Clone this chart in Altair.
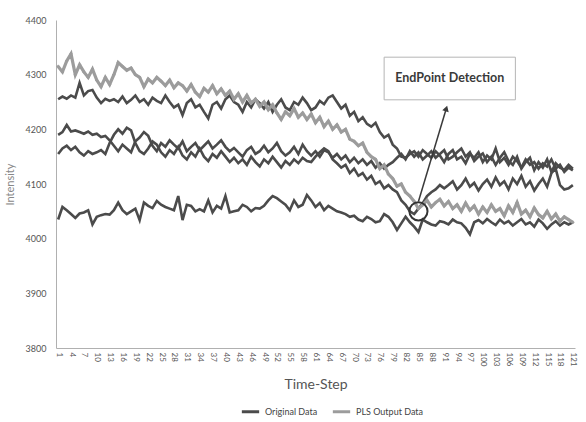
import altair as alt
import pandas as pd

# ---- data ----
steps = list(range(1, 122))
tick_steps = list(range(1, 122, 3))

pls_output = [
    4315, 4305, 4325, 4338, 4300, 4318, 4305, 4295, 4310, 4290,
    4278, 4295, 4282, 4300, 4322, 4315, 4308, 4312, 4300, 4295,
    4278, 4292, 4285, 4295, 4288, 4280, 4290, 4276, 4285, 4280,
    4270, 4282, 4268, 4260, 4275, 4268, 4280, 4265, 4274, 4262,
    4270, 4255, 4265, 4250, 4262, 4248, 4255, 4242, 4250, 4236,
    4245, 4230, 4218, 4232, 4225, 4238, 4222, 4230, 4218, 4228,
    4212, 4222, 4205, 4215, 4200, 4208, 4195, 4200, 4182, 4178,
    4170, 4175, 4158, 4150, 4145, 4128, 4135, 4118, 4110, 4096,
    4100, 4085, 4078, 4068, 4055, 4062, 4070, 4058, 4066, 4072,
    4060, 4068, 4055, 4062, 4050, 4065, 4052, 4060, 4045, 4058,
    4048, 4062, 4050, 4055, 4042, 4060, 4048, 4066, 4045, 4052,
    4040, 4056, 4044, 4038, 4050, 4036, 4045, 4032, 4040, 4035,
    4030,
]

original_1 = [
    4255, 4260, 4256, 4262, 4258, 4285, 4262, 4270, 4272, 4258,
    4248, 4256, 4252, 4255, 4250, 4260, 4248, 4254, 4262, 4250,
    4255, 4245, 4258, 4252, 4248, 4262, 4250, 4240, 4245, 4226,
    4248, 4255, 4240, 4245, 4232, 4220, 4245, 4250, 4238, 4255,
    4262, 4250, 4245, 4232, 4250, 4240, 4255, 4248, 4238, 4250,
    4232, 4245, 4255, 4240, 4235, 4250, 4245, 4258, 4248, 4235,
    4240, 4252, 4246, 4258, 4262, 4250, 4238, 4245, 4225, 4232,
    4215, 4222, 4210, 4205, 4212, 4195, 4185, 4190, 4172, 4165,
    4150, 4148, 4155, 4160, 4150, 4162, 4155, 4148, 4160, 4152,
    4140, 4155, 4162, 4145, 4150, 4138, 4155, 4148, 4158, 4140,
    4152, 4145, 4165, 4140, 4148, 4135, 4150, 4142, 4130, 4145,
    4135, 4140, 4128, 4138, 4132, 4145, 4128, 4135, 4122, 4130,
    4125,
]

original_2 = [
    4190, 4195, 4208, 4196, 4198, 4195, 4192, 4196, 4190, 4192,
    4186, 4188, 4180, 4170, 4160, 4172, 4165, 4158, 4178, 4185,
    4195, 4188, 4170, 4160, 4175, 4168, 4180, 4172, 4165, 4178,
    4160, 4168, 4175, 4162, 4170, 4178, 4165, 4172, 4180, 4168,
    4160, 4166, 4158, 4150, 4162, 4168, 4155, 4160, 4170, 4158,
    4165, 4175, 4160, 4152, 4158, 4168, 4155, 4172, 4160, 4152,
    4160, 4150, 4162, 4158, 4148, 4155, 4145, 4152, 4140, 4148,
    4138, 4145, 4135, 4142, 4130, 4138, 4128, 4135, 4140, 4148,
    4155, 4145, 4160, 4150, 4158, 4145, 4152, 4160, 4148, 4155,
    4162, 4145, 4150, 4158, 4165, 4150, 4158, 4142, 4150, 4156,
    4140, 4150, 4135, 4148, 4158, 4142, 4135, 4150, 4128, 4140,
    4148, 4125, 4140, 4130, 4145, 4122, 4138, 4130, 4126, 4135,
    4128,
]

original_3 = [
    4155, 4165, 4170, 4162, 4168, 4158, 4152, 4160, 4155, 4158,
    4162, 4155, 4175, 4190, 4200, 4192, 4203, 4198, 4175, 4160,
    4155, 4165, 4178, 4172, 4158, 4150, 4162, 4155, 4168, 4152,
    4145, 4158, 4150, 4165, 4150, 4142, 4155, 4148, 4160, 4150,
    4140, 4148, 4138, 4145, 4135, 4150, 4140, 4132, 4145, 4138,
    4150, 4140, 4130, 4142, 4135, 4145, 4138, 4148, 4142, 4140,
    4150, 4158, 4165, 4160, 4145, 4138, 4130, 4135, 4120, 4128,
    4115, 4120, 4108, 4115, 4100, 4105, 4092, 4098, 4090, 4085,
    4070, 4062, 4050, 4045, 4055, 4065, 4078, 4085, 4090, 4098,
    4092, 4098, 4105, 4090, 4098, 4110, 4095, 4102, 4088, 4100,
    4108, 4095, 4112, 4098, 4105, 4090, 4110, 4100, 4115, 4095,
    4105, 4088, 4100, 4110, 4095, 4120, 4128, 4098, 4090, 4092,
    4098,
]

original_4 = [
    4035, 4058, 4052, 4045, 4038, 4046, 4048, 4052, 4026, 4040,
    4043, 4045, 4044, 4052, 4066, 4052, 4045, 4050, 4055, 4034,
    4066, 4060, 4056, 4069, 4062, 4058, 4055, 4052, 4078, 4034,
    4062, 4060, 4050, 4054, 4050, 4070, 4048, 4060, 4055, 4078,
    4048, 4050, 4052, 4062, 4058, 4050, 4056, 4055, 4060, 4070,
    4078, 4074, 4068, 4062, 4052, 4070, 4058, 4062, 4080, 4070,
    4058, 4065, 4052, 4060, 4055, 4050, 4048, 4045, 4040, 4042,
    4035, 4032, 4040, 4036, 4030, 4032, 4045, 4040, 4030, 4016,
    4028, 4040, 4030, 4022, 4012, 4035, 4030, 4026, 4024, 4032,
    4030, 4026, 4035, 4030, 4028, 4020, 4008, 4030, 4034, 4028,
    4036, 4030, 4025, 4035, 4028, 4032, 4024, 4030, 4036, 4026,
    4030, 4022, 4035, 4028, 4018, 4026, 4032, 4024, 4030, 4026,
    4030,
]

y_ticks = [3800, 3900, 4000, 4100, 4200, 4300, 4400]
legend_labels = ["Original Data", "PLS Output Data"]

# annotation (data units)
note_text = "EndPoint Detection"
box_step = [77.0, 107.6]
box_val = [4254, 4332]
arrow_from = (85.0, 4068)
arrow_to = (91.5, 4238)
circle_at = (85.0, 4050)

# ---- build table ----
rows = []
for name, vals in [("o1", original_1), ("o2", original_2), ("o3", original_3), ("o4", original_4)]:
    for s, v in zip(steps, vals):
        rows.append({"step": s, "value": v, "series": name, "type": legend_labels[0]})
for s, v in zip(steps, pls_output):
    rows.append({"step": s, "value": v, "series": "pls", "type": legend_labels[1]})
df = pd.DataFrame(rows)

FONT = "Lato, Roboto, sans-serif"

x_scale = alt.Scale(domain=[0.5, 121.5], nice=False, zero=False)
y_scale = alt.Scale(domain=[3800, 4400], nice=False, zero=False)

x_axis = alt.Axis(
    values=tick_steps, labelAngle=90, labelFontSize=8, labelColor="#555555",
    labelOverlap=False, labelBound=False, labelFlush=False, ticks=False, grid=False,
    domainColor="#b0b0b0", labelPadding=4, title="Time-Step", titleFontSize=14,
    titleFontWeight="normal", titleColor="#555555", titleY=36, titleBaseline="middle",
    labelFont=FONT, titleFont=FONT, format="d",
)
y_axis = alt.Axis(
    values=y_ticks, labelFontSize=9, labelColor="#555555", ticks=False, grid=False,
    domainColor="#b0b0b0", labelPadding=10, title="Intensity", titleFontSize=11,
    titleFontWeight="normal", titleColor="#888888", titleX=-46, titleY=164,
    titleAngle=-90, titleBaseline="middle", labelFont=FONT, titleFont=FONT, format="d",
)

X = alt.X("step:Q", scale=x_scale, axis=x_axis)
Y = alt.Y("value:Q", scale=y_scale, axis=y_axis)

color = alt.Color(
    "type:N",
    scale=alt.Scale(domain=legend_labels, range=["#4b4b4b", "#9c9c9c"]),
    legend=alt.Legend(
        title=None, orient="none", direction="horizontal", legendX=184, legendY=381,
        symbolType="stroke", symbolStrokeWidth=3, symbolSize=300, labelFontSize=9,
        labelColor="#444444", labelFont=FONT, columnPadding=8, symbolOffset=0,
    ),
)

base = alt.Chart(df)
dark_lines = alt.Chart(df[df["series"] != "pls"]).mark_line(strokeWidth=2.6, strokeJoin="miter").encode(
    x=X, y=Y, color=color, detail="series:N", order="step:Q",
)
pls_line = alt.Chart(df[df["series"] == "pls"]).mark_line(strokeWidth=3.2, strokeJoin="miter").encode(
    x=X, y=Y, color=color, detail="series:N", order="step:Q",
)
pls_pts = alt.Chart(df[df["series"] == "pls"]).mark_point(
    filled=True, size=14, color="#9c9c9c", opacity=1, shape="diamond"
).encode(x=X, y=Y)

# annotation
box_df = pd.DataFrame([{"x": box_step[0], "x2": box_step[1], "y": box_val[0], "y2": box_val[1],
                        "xm": (box_step[0] + box_step[1]) / 2, "ym": (box_val[0] + box_val[1]) / 2,
                        "t": note_text}])
box = alt.Chart(box_df).mark_rect(fill="white", stroke="#b5b5b5", strokeWidth=1).encode(
    x=alt.X("x:Q", scale=x_scale, axis=x_axis), x2="x2",
    y=alt.Y("y:Q", scale=y_scale, axis=y_axis), y2="y2")
box_text = alt.Chart(box_df).mark_text(
    fontSize=12.5, fontWeight="bold", color="#3a3a3a", font=FONT
).encode(x=alt.X("xm:Q", scale=x_scale, axis=x_axis),
         y=alt.Y("ym:Q", scale=y_scale, axis=y_axis), text="t:N")

arrow_df = pd.DataFrame([{"x": arrow_from[0], "y": arrow_from[1], "x2": arrow_to[0], "y2": arrow_to[1]}])
arrow = alt.Chart(arrow_df).mark_rule(color="#3a3a3a", strokeWidth=1.5).encode(
    x=alt.X("x:Q", scale=x_scale, axis=x_axis), y=alt.Y("y:Q", scale=y_scale, axis=y_axis),
    x2="x2", y2="y2")
head_df = pd.DataFrame([{"x": arrow_to[0], "y": arrow_to[1]}])
head = alt.Chart(head_df).mark_point(
    shape="triangle-up", filled=True, color="#3a3a3a", size=45, angle=17, opacity=1
).encode(x=alt.X("x:Q", scale=x_scale, axis=x_axis), y=alt.Y("y:Q", scale=y_scale, axis=y_axis))
circ_df = pd.DataFrame([{"x": circle_at[0], "y": circle_at[1]}])
circ = alt.Chart(circ_df).mark_point(
    shape="circle", filled=False, color="#333333", strokeWidth=2, size=330, opacity=1
).encode(x=alt.X("x:Q", scale=x_scale, axis=x_axis), y=alt.Y("y:Q", scale=y_scale, axis=y_axis))

chart = alt.layer(dark_lines, pls_line, pls_pts, circ, arrow, head, box, box_text).properties(
    width=519, height=328,
    autosize=alt.AutoSizeParams(type="none"),
    padding={"left": 56, "top": 20, "right": 11, "bottom": 74},
    background="white",
).configure_view(stroke=None)

chart.save("out.html", embed_options={"renderer": "svg", "actions": False})
